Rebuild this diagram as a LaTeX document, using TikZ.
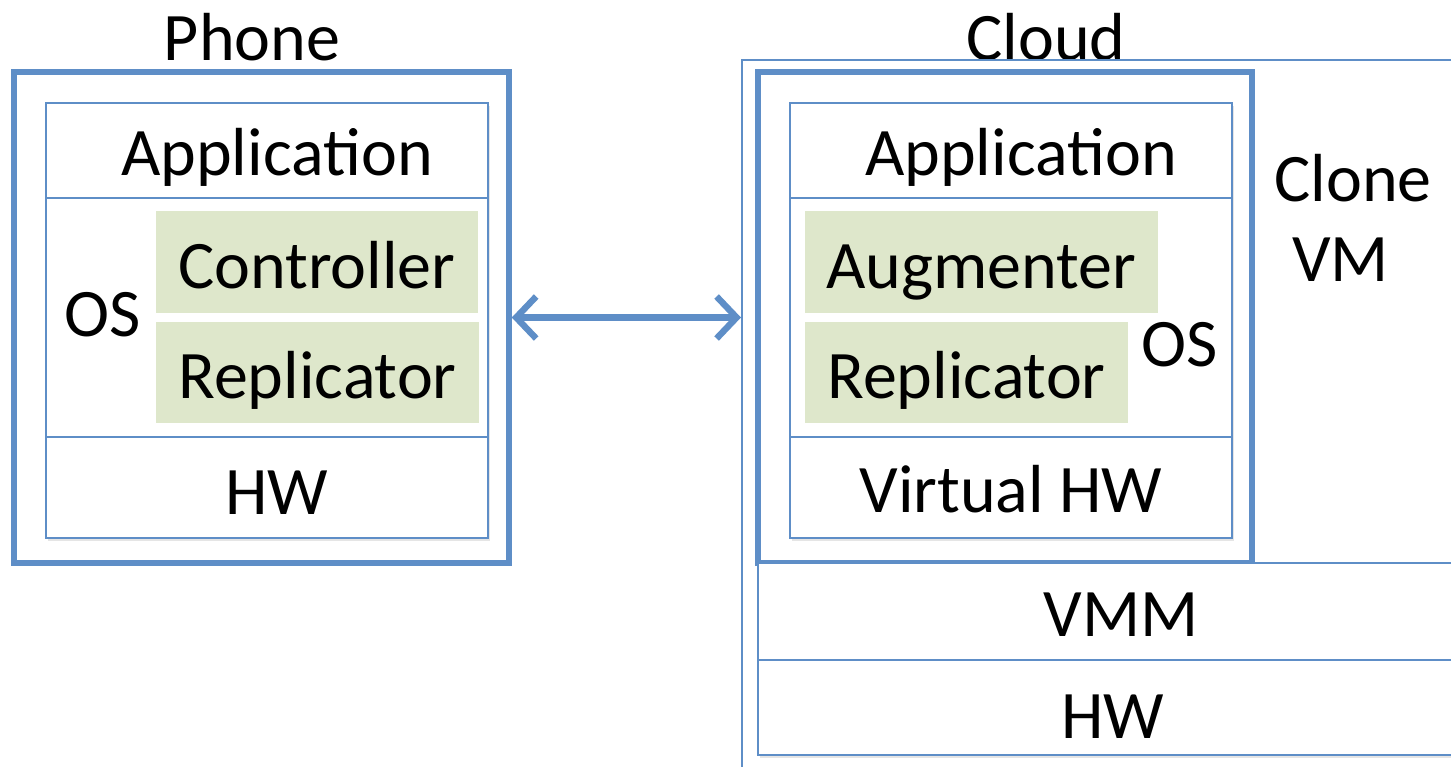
\documentclass[tikz,border=0pt]{standalone}
\usepackage{fontspec}
\setmainfont{Carlito}
\usetikzlibrary{arrows.meta,shadows}

\definecolor{boxblue}{RGB}{94,142,199}
\definecolor{modgreen}{RGB}{222,231,203}

\tikzset{
	label text/.style={font=\fontsize{34pt}{40pt}\selectfont},
	layer/.style={draw=boxblue, line width=1pt, fill=white, rectangle, inner sep=0pt,
		text height=24.5pt, text depth=0pt,
		drop shadow={opacity=0.2, shadow xshift=1pt, shadow yshift=-1.5pt}, label text},
	frame/.style={draw=boxblue, line width=2.75pt, rectangle, inner sep=0pt, fill=white,
		drop shadow={opacity=0.25, shadow xshift=1pt, shadow yshift=-1.5pt}},
	module/.style={fill=modgreen, rectangle, inner sep=0pt, text height=26pt, text depth=0pt, label text},
	link/.style={draw=boxblue, line width=3.2pt, line cap=round,
		{Straight Barb[length=10pt,width=21pt]}-{Straight Barb[length=10pt,width=21pt]}}
}

\begin{document}
\begin{tikzpicture}[x=0.5pt, y=-0.5pt]
	\clip (0,0) rectangle (1451,766);

	% phone side
	\node[label text] (phonetitle) at (252,37) {Phone};
	\node[frame, minimum width=247.5pt, minimum height=245.5pt] (phone) at (261.5,317.5) {};
	\node[layer, minimum width=221pt, minimum height=47.5pt] (papp) at (267,150.5) {\hspace*{10pt}Application};
	\node[layer, minimum width=221pt, minimum height=119.5pt] (pos) at (267,317.5) {};
	\node[layer, minimum width=221pt, minimum height=50.5pt, text height=27pt] (phw) at (267,487.5) {\hspace*{10pt}HW};
	\node[module, minimum width=161pt, minimum height=51pt] (controller) at (317,262) {Controller};
	\node[module, minimum width=161.5pt, minimum height=50.5pt] (prepl) at (317.5,372.5) {Replicator};
	\node[label text] (poslabel) at (103,315) {OS};

	% cloud side
	\node[label text] (cloudtitle) at (1046,37) {Cloud};
	\node[layer, minimum width=369pt, minimum height=370pt] (cloud) at (1111,430) {};
	\node[frame, minimum width=247pt, minimum height=245.5pt] (clone) at (1005,317.5) {};
	\node[layer, minimum width=221pt, minimum height=47.5pt] (capp) at (1011,150.5) {\hspace*{10pt}Application};
	\node[layer, minimum width=221pt, minimum height=119.5pt] (cos) at (1011,317.5) {};
	\node[layer, minimum width=221pt, minimum height=50.5pt] (vhw) at (1011,487.5) {Virtual HW};
	\node[module, minimum width=176.5pt, minimum height=51pt] (augmenter) at (981.5,262) {Augmenter};
	\node[module, minimum width=161.5pt, minimum height=50.5pt] (crepl) at (966.5,372.5) {Replicator};
	\node[label text] (coslabel) at (1180,345) {OS};
	\node[label text, align=left] (clonelabel) at (1353,218) {Clone\\\hspace{9pt}VM};
	\node[layer, minimum width=363pt, minimum height=48.5pt] (vmm) at (1121,611.5) {VMM};
	\node[layer, minimum width=363pt, minimum height=47.5pt, text height=31pt] (chw) at (1121,707.5) {HW\hspace*{8pt}};

	% connection
	\draw[link] (phone.east) -- (phone.east -| cloud.west);
\end{tikzpicture}
\end{document}
